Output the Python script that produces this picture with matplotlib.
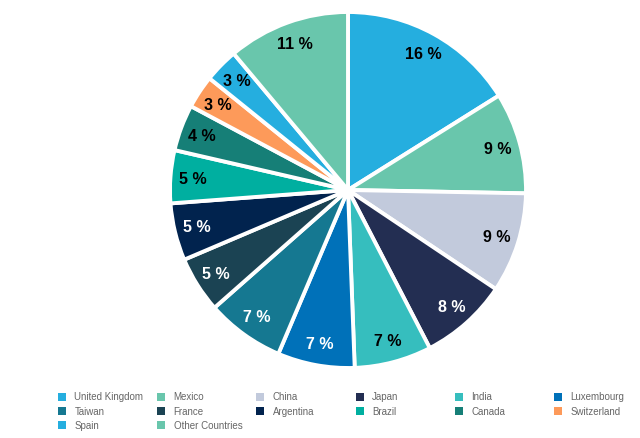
import matplotlib
matplotlib.use("Agg")
import matplotlib.pyplot as plt
from matplotlib.patches import Rectangle

plt.rcParams['font.family'] = ['Liberation Sans', 'DejaVu Sans']

# ── Data ──────────────────────────────────────────────────────────────────────
countries = ["United Kingdom", "Mexico", "China", "Japan", "India", "Luxembourg",
             "Taiwan", "France", "Argentina", "Brazil", "Canada", "Switzerland",
             "Spain", "Other Countries"]
shares = [16.1, 9.2, 9.1, 8.0, 7.0, 7.0, 7.1, 5.1, 5.2, 4.8, 4.2, 3.0, 3.1, 11.1]
colors = ["#25AEDF", "#69C6AC", "#C2CADC", "#232E52", "#36BEBE", "#0071B9",
          "#157891", "#1B4353", "#01234E", "#00AFA0", "#167F77", "#FD9A5A",
          "#25AEDF", "#69C6AC"]
label_colors = ["black", "black", "black", "white", "black", "white",
                "white", "white", "white", "black", "black", "black",
                "black", "black"]

W, H = 640, 439
fig = plt.figure(figsize=(W / 100, H / 100), dpi=100)

# pie axes (pixel placement)
cx, cy, r = 348, 191, 178
ax = fig.add_axes([(cx - r) / W, (H - cy - r) / H, 2 * r / W, 2 * r / H])
wedges, texts, autotexts = ax.pie(
    shares, colors=colors, startangle=90, counterclock=False,
    autopct=lambda p: f"{p:.0f} %", pctdistance=0.875,
    wedgeprops=dict(edgecolor="white", linewidth=2.8),
)
for t, c in zip(autotexts, label_colors):
    t.set_color(c)
    t.set_fontsize(11.5)
    t.set_fontweight("bold")
ax.set_xlim(-1, 1)
ax.set_ylim(-1, 1)
ax.set_aspect("auto")
ax.axis("off")

# ── Legend (row-major, 6 columns) ─────────────────────────────────────────────
ncol = 6
x0, dx = 58, 99.2
y0, dy = 397.5, 14.3
box = 8
for i, (name, col) in enumerate(zip(countries, colors)):
    row, c = divmod(i, ncol)
    x = x0 + c * dx
    y = y0 + row * dy
    fig.patches.append(Rectangle(((x) / W, (H - y - box / 2) / H), box / W, box / H,
                                 transform=fig.transFigure, facecolor=col,
                                 edgecolor="none"))
    fig.text((x + 16.5) / W, (H - y) / H, name, fontsize=7, color="#666666",
             va="center", ha="left")

fig.savefig("out.png", dpi=100, facecolor="white")
